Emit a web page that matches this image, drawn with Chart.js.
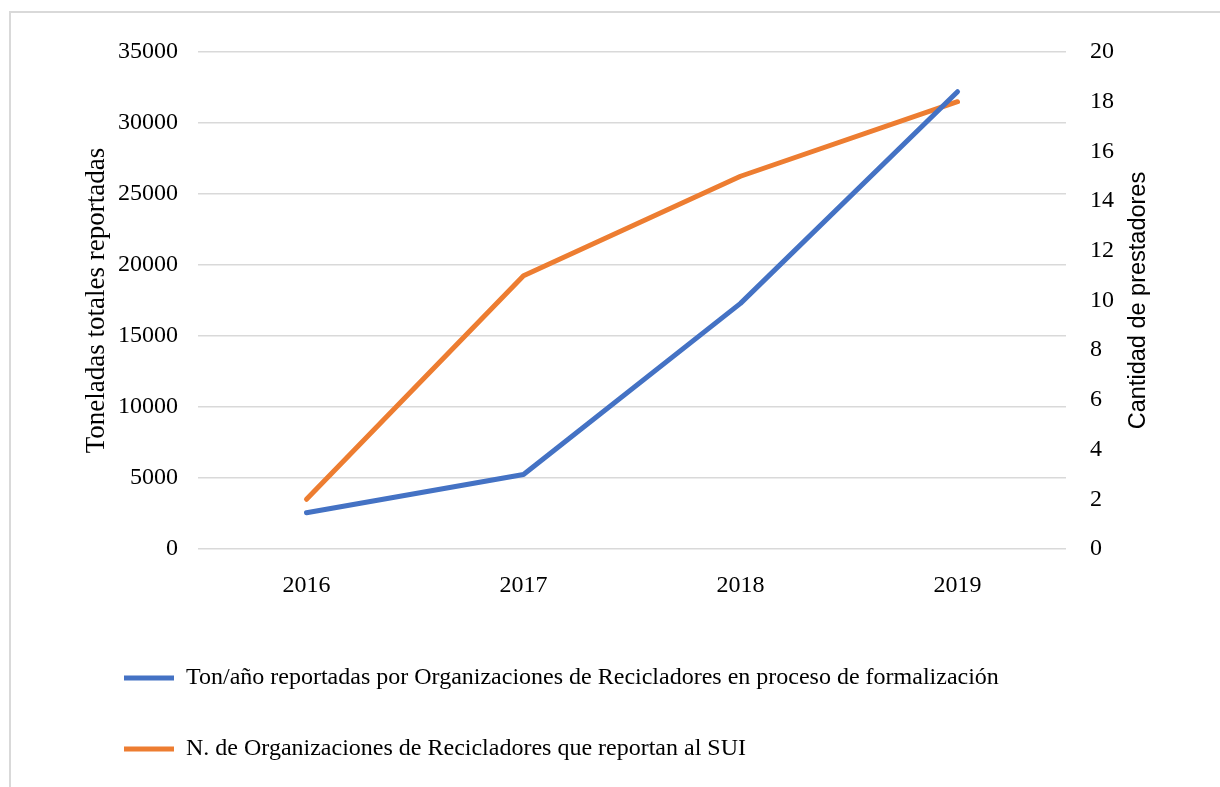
<!DOCTYPE html>
<html>
<head>
<meta charset="utf-8">
<script src="https://cdn.jsdelivr.net/npm/chart.js@4/dist/chart.umd.min.js"></script>
<style>
  html, body { margin: 0; padding: 0; background: #fff; overflow: hidden; }
  #frame { position: absolute; left: 9px; top: 11px; width: 1300px; height: 900px; border: 2px solid #d9d9d9; box-sizing: border-box; }
  #wrap { position: absolute; left: 0; top: 0; width: 1220px; height: 787px; }
</style>
</head>
<body>
<div id="frame"></div>
<div id="wrap"><canvas id="chart"></canvas></div>
<script>
const years = ['2016', '2017', '2018', '2019'];
const toneladas = [2550, 5250, 17300, 32200];
const organizaciones = [2, 11, 15, 18];
const tonLabel = 'Ton/año reportadas por Organizaciones de Recicladores en proceso de formalización';
const orgLabel = 'N. de Organizaciones de Recicladores que reportan al SUI';

Chart.defaults.font.family = '"Liberation Serif", "Times New Roman", serif';
Chart.defaults.font.size = 24;
Chart.defaults.color = '#000';

// right axis title reads bottom-to-top in the original, so draw it by hand
const rightTitle = {
    id: 'rightTitle',
    afterDraw(chart) {
        const ctx = chart.ctx;
        const area = chart.chartArea;
        ctx.save();
        ctx.translate(1139, (area.top + area.bottom) / 2);
        ctx.rotate(-Math.PI / 2);
        ctx.font = '23.5px "Liberation Sans", Arial, sans-serif';
        ctx.fillStyle = '#000';
        ctx.textAlign = 'center';
        ctx.textBaseline = 'middle';
        ctx.fillText('Cantidad de prestadores', 0, 0);
        ctx.restore();
    }
};

const ctx = document.getElementById('chart').getContext('2d');
new Chart(ctx, {
    type: 'line',
    data: {
        labels: years,
        datasets: [{
            label: tonLabel,
            data: toneladas,
            yAxisID: 'y',
            borderColor: '#4472C4',
            backgroundColor: '#4472C4',
            borderWidth: 5,
            borderCapStyle: 'round',
            borderJoinStyle: 'round',
            pointRadius: 0,
            tension: 0
        }, {
            label: orgLabel,
            data: organizaciones,
            yAxisID: 'y1',
            borderColor: '#ED7D31',
            backgroundColor: '#ED7D31',
            borderWidth: 5,
            borderCapStyle: 'round',
            borderJoinStyle: 'round',
            pointRadius: 0,
            tension: 0
        }]
    },
    options: {
        responsive: true,
        maintainAspectRatio: false,
        animation: false,
        layout: { padding: { left: 77, right: 0, top: 52, bottom: 16 } },
        plugins: {
            legend: {
                position: 'bottom',
                align: 'start',
                labels: {
                    usePointStyle: true,
                    pointStyle: 'line',
                    pointStyleWidth: 50,
                    padding: 47,
                    color: '#000'
                }
            },
            tooltip: { enabled: false }
        },
        scales: {
            x: {
                offset: true,
                grid: { display: false },
                border: { display: false },
                ticks: { padding: 14 },
                afterFit: s => { s.height = 70; }
            },
            y: {
                position: 'left',
                min: 0,
                max: 35000,
                ticks: { stepSize: 5000, padding: 20, callback: v => String(v) },
                grid: { color: '#d9d9d9', lineWidth: 1.5, drawTicks: false },
                border: { display: false },
                title: {
                    display: true,
                    text: 'Toneladas totales reportadas',
                    font: { size: 27 },
                    padding: { top: 4, bottom: 0 }
                },
                afterFit: s => { s.width = 121; }
            },
            y1: {
                position: 'right',
                min: 0,
                max: 20,
                ticks: { stepSize: 2, padding: 24 },
                grid: { display: false, drawTicks: false },
                border: { display: false },
                afterFit: s => { s.width = 154; }
            }
        }
    },
    plugins: [rightTitle]
});
</script>
</body>
</html>
